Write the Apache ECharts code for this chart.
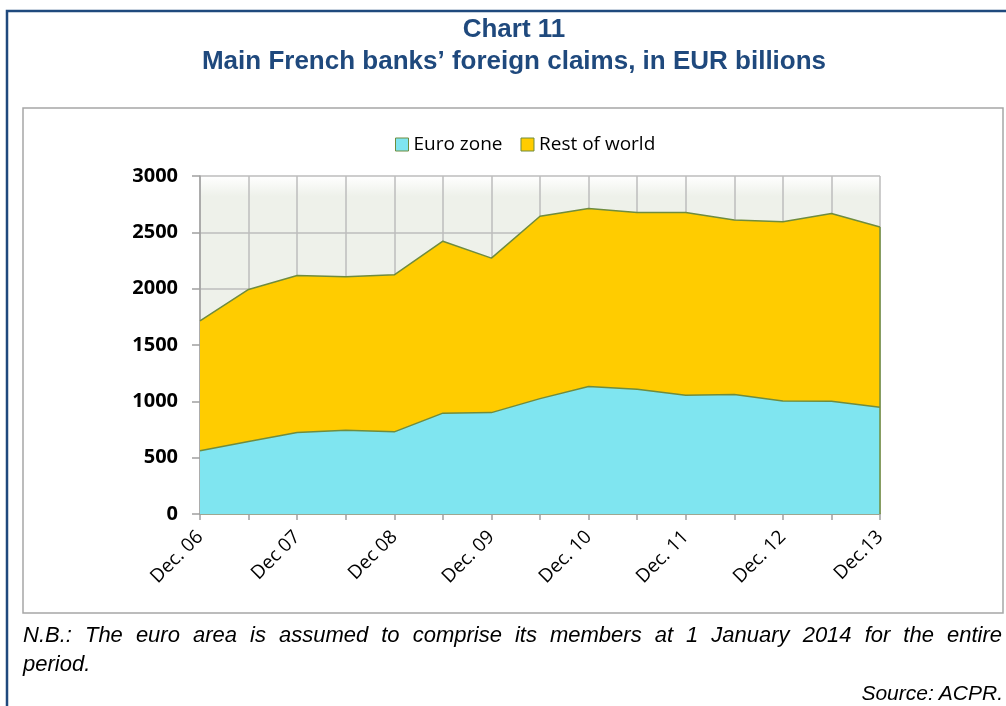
<!DOCTYPE html>
<html>
<head>
<meta charset="utf-8">
<script src="https://cdn.jsdelivr.net/npm/echarts@6/dist/echarts.min.js"></script>
<style>
  html, body { margin: 0; padding: 0; background: #fff; }
  #wrap { position: relative; width: 1006px; height: 706px; overflow: hidden; }
  #chart { position: absolute; left: 0; top: 0; width: 1006px; height: 706px; }
  .note { position: absolute; font-family: 'Liberation Sans', Arial, sans-serif; font-style: italic; font-size: 22px; line-height: 28px; color: #000; white-space: nowrap; }
  #nb1 { left: 23px; top: 621px; width: 979px; text-align: justify; text-align-last: justify; }
  #nb2 { left: 23px; top: 650px; }
  #src { right: 3px; top: 679px; text-align: right; font-size: 21px; }
</style>
</head>
<body>
<div id="wrap">
  <div id="chart"></div>
  <div class="note" id="nb1">N.B.: The euro area is assumed to comprise its members at 1 January 2014 for the entire</div>
  <div class="note" id="nb2">period.</div>
  <div class="note" id="src">Source: ACPR.</div>
</div>
<script>
const titleLine1 = 'Chart 11';
const titleLine2 = 'Main French banks\u2019 foreign claims, in EUR billions';
const seriesNames = ['Euro zone', 'Rest of world'];
const categories = ['Dec. 06', 'Jun. 07', 'Dec 07', 'Jun. 08', 'Dec 08', 'Jun. 09', 'Dec. 09', 'Jun. 10',
                    'Dec. 10', 'Jun. 11', 'Dec. 11', 'Jun. 12', 'Dec. 12', 'Jun. 13', 'Dec.13'];
const euroZone    = [561, 643, 723, 744, 729, 895, 900, 1024, 1131, 1107, 1054, 1060, 1004, 1001, 948];
const restOfWorld = [1154, 1350, 1394, 1361, 1394, 1526, 1371, 1619, 1580, 1569, 1622, 1550, 1589, 1666, 1600];
const yMin = 0, yMax = 3000, yInterval = 500;

const OUTLINE = '#6F8C3E';
const lastIdx = categories.length - 1;
const lastTotal = euroZone[lastIdx] + restOfWorld[lastIdx];

const chart = echarts.init(document.getElementById('chart'), null, { renderer: 'canvas' });
chart.setOption({
  animation: false,
  backgroundColor: '#ffffff',
  graphic: [
    { type: 'rect', z: 0, shape: { x: 7, y: 11, width: 1020, height: 720 },
      style: { fill: 'none', stroke: '#1F497D', lineWidth: 2.5 } },
    { type: 'rect', z: 0, shape: { x: 23, y: 108, width: 980, height: 505 },
      style: { fill: 'none', stroke: '#A6A6A6', lineWidth: 1.5 } },
    { type: 'text', z: 10, x: 514, y: 30,
      style: { text: titleLine1, font: 'bold 26px "Liberation Sans", Arial, sans-serif', fill: '#1F497D',
               textAlign: 'center', textVerticalAlign: 'middle' } },
    { type: 'text', z: 10, x: 514, y: 62,
      style: { text: titleLine2, font: 'bold 26px "Liberation Sans", Arial, sans-serif', fill: '#1F497D',
               textAlign: 'center', textVerticalAlign: 'middle' } }
  ],
  legend: {
    data: seriesNames,
    left: 390, top: 130,
    icon: 'rect', itemWidth: 13, itemHeight: 13, itemGap: 18,
    itemStyle: { borderColor: OUTLINE, borderWidth: 1 },
    textStyle: { fontFamily: 'Open Sans', fontSize: 19, color: '#000' }
  },
  grid: {
    left: 200, right: 126, top: 176, bottom: 192,
    show: true, borderWidth: 0,
    backgroundColor: { type: 'linear', x: 0, y: 0, x2: 0, y2: 1,
      colorStops: [{ offset: 0, color: '#FFFFFF' }, { offset: 0.06, color: '#EEF1EA' }, { offset: 1, color: '#EEF1EA' }] }
  },
  xAxis: {
    type: 'category', data: categories, boundaryGap: false,
    axisLine: { show: true, lineStyle: { color: '#8E9A7E', width: 1.5 } },
    axisTick: { show: true, interval: 0, length: 6, lineStyle: { color: '#A0A0A0', width: 1.5 } },
    axisLabel: { interval: 1, rotate: 45, margin: 20, fontFamily: 'Open Sans', fontSize: 19, color: '#000' },
    splitLine: { show: true, interval: 0, lineStyle: { color: '#BDBDBD', width: 1.5 } }
  },
  yAxis: {
    type: 'value', min: yMin, max: yMax, interval: yInterval,
    axisLine: { show: true, lineStyle: { color: '#A0A0A0', width: 1.5 } },
    axisTick: { show: true, length: 8, lineStyle: { color: '#A0A0A0', width: 1.5 } },
    axisLabel: { margin: 22, fontFamily: 'Open Sans', fontWeight: 'bold', fontSize: 20, color: '#000',
                 formatter: v => String(v) },
    splitLine: { show: true, lineStyle: { color: '#BDBDBD', width: 1.5 } }
  },
  series: [
    { name: seriesNames[0], type: 'line', stack: 'total', data: euroZone,
      symbol: 'none', itemStyle: { color: '#7FE5F0' },
      lineStyle: { color: OUTLINE, width: 1.5 },
      areaStyle: { color: '#7FE5F0', opacity: 1 } },
    { name: seriesNames[1], type: 'line', stack: 'total', data: restOfWorld,
      symbol: 'none', itemStyle: { color: '#FFCC00' },
      lineStyle: { color: OUTLINE, width: 1.5 },
      areaStyle: { color: '#FFCC00', opacity: 1 },
      markLine: { silent: true, symbol: 'none', label: { show: false },
        lineStyle: { color: OUTLINE, width: 1.5, type: 'solid' },
        data: [[{ coord: [lastIdx, 0] }, { coord: [lastIdx, lastTotal] }]] } }
  ]
});
</script>
</body>
</html>
